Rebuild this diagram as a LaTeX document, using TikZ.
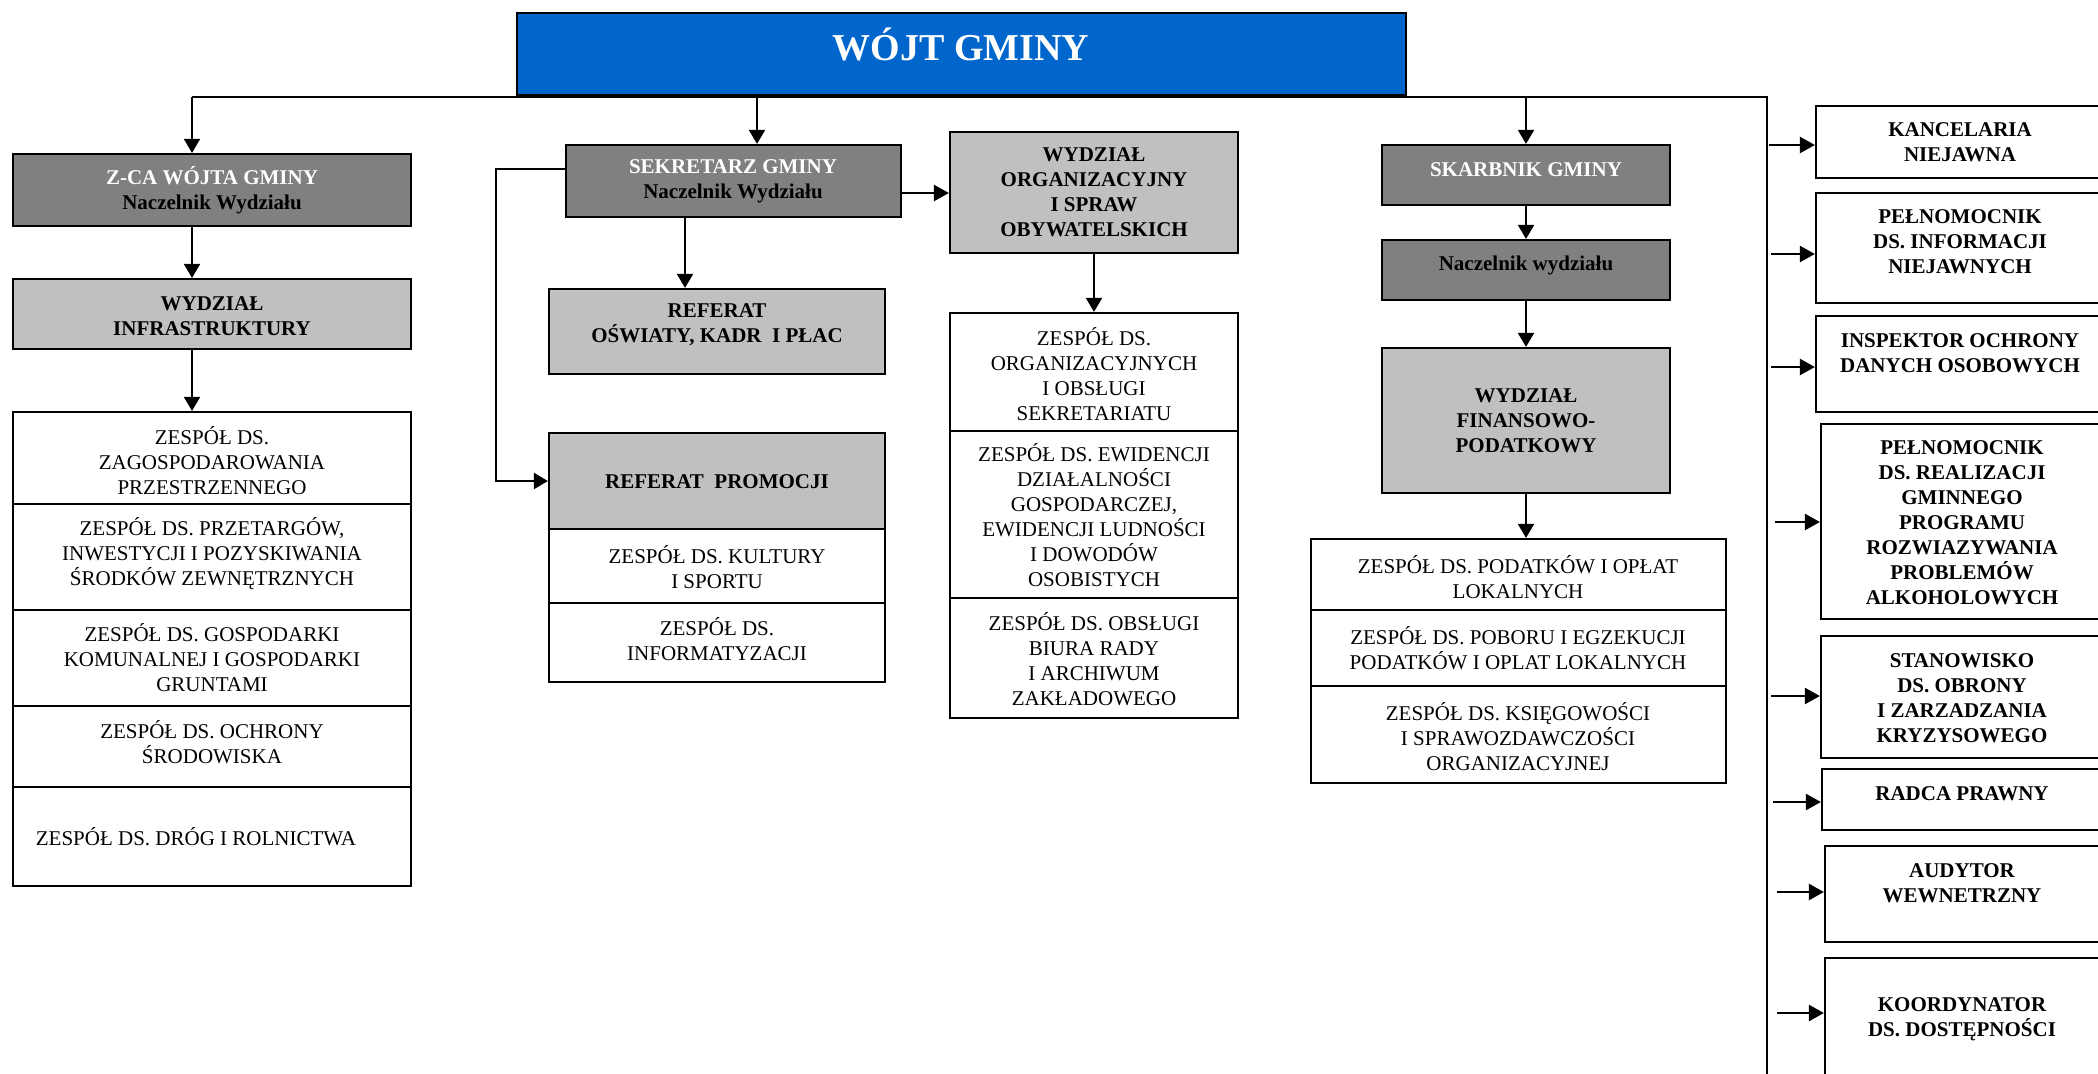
\documentclass[tikz,border=0pt]{standalone}
\usepackage{fontspec}
\setmainfont{Liberation Serif}
\usetikzlibrary{fit,arrows.meta}
\definecolor{wblue}{HTML}{0066CC}
\definecolor{dgray}{HTML}{808080}
\definecolor{lgray}{HTML}{C0C0C0}
\tikzset{
  box/.style={draw, line width=1.1pt, inner sep=0pt},
  txt/.style={font=\fontsize{10.5}{12.5}\selectfont, align=center, inner sep=0pt},
  btxt/.style={font=\fontsize{10.5}{12.5}\selectfont\bfseries, align=center, inner sep=0pt},
  arr/.style={line width=1pt, -{Triangle[length=7pt,width=8pt]}},
  harr/.style={line width=1.2pt, -{Triangle[length=7.5pt,width=8pt]}},
  bus/.style={line width=1pt}
}
\begin{document}
\begin{tikzpicture}[x=0.5pt,y=-0.5pt]
\useasboundingbox (0,0) rectangle (2098,1073);
\clip (0,0) rectangle (2098,1073);
\fill[white] (0,0) rectangle (2098,1073);

% top
\node[box, fill=wblue, fit={(517,13)(1406,95)}] (wojt) {};
\node[btxt, font=\fontsize{19}{22}\selectfont\bfseries, text=white, anchor=base] (twojt) at (961,60) {WÓJT GMINY};

% column 1
\node[box, fill=dgray, fit={(13,154)(411,226)}] (zca) {};
\node[btxt] (tzca) at (212,190) {{\color{white}Z-CA WÓJTA GMINY}\\Naczelnik Wydziału};
\node[box, fill=lgray, fit={(13,279)(411,349)}] (winfra) {};
\node[btxt] (twinfra) at (212,316) {WYDZIAŁ\\INFRASTRUKTURY};
\node[box, fit={(13,412)(411,504)}] (zinf1) {};
\node[txt] (tzinf1) at (212,461) {ZESPÓŁ DS.\\ZAGOSPODAROWANIA\\PRZESTRZENNEGO};
\node[box, fit={(13,504)(411,610)}] (zinf2) {};
\node[txt] (tzinf2) at (212,554) {ZESPÓŁ DS. PRZETARGÓW,\\INWESTYCJI I POZYSKIWANIA\\ŚRODKÓW ZEWNĘTRZNYCH};
\node[box, fit={(13,610)(411,706)}] (zinf3) {};
\node[txt] (tzinf3) at (212,658) {ZESPÓŁ DS. GOSPODARKI\\KOMUNALNEJ I GOSPODARKI\\GRUNTAMI};
\node[box, fit={(13,706)(411,787)}] (zinf4) {};
\node[txt] (tzinf4) at (212,742) {ZESPÓŁ DS. OCHRONY\\ŚRODOWISKA};
\node[box, fit={(13,787)(411,886)}] (zinf5) {};
\node[txt] (tzinf5) at (196,837) {ZESPÓŁ DS. DRÓG I ROLNICTWA};

% column 2
\node[box, fill=dgray, fit={(566,145)(901,217)}] (sek) {};
\node[btxt] (tsek) at (733,181) {{\color{white}SEKRETARZ GMINY}\\Naczelnik Wydziału};
\node[box, fill=lgray, fit={(549,289)(885,374)}] (rosw) {};
\node[btxt] (trosw) at (717,325) {REFERAT\\OŚWIATY, KADR~ I PŁAC};
\node[box, fill=lgray, fit={(549,433)(885,529)}] (rprom) {};
\node[btxt] (trprom) at (717,482) {REFERAT~ PROMOCJI};
\node[box, fit={(549,529)(885,603)}] (zkult) {};
\node[txt] (tzkult) at (717,567) {ZESPÓŁ DS. KULTURY\\I SPORTU};
\node[box, fit={(549,603)(885,682)}] (zinfo) {};
\node[txt] (tzinfo) at (717,639) {ZESPÓŁ DS.\\INFORMATYZACJI};

% column 3
\node[box, fill=lgray, fit={(950,132)(1238,253)}] (worg) {};
\node[btxt] (tworg) at (1094,192) {WYDZIAŁ\\ORGANIZACYJNY\\I SPRAW\\OBYWATELSKICH};
\node[box, fit={(950,313)(1238,431)}] (zorg1) {};
\node[txt] (tzorg1) at (1094,374) {ZESPÓŁ DS.\\ORGANIZACYJNYCH\\I OBSŁUGI\\SEKRETARIATU};
\node[box, fit={(950,431)(1238,598)}] (zorg2) {};
\node[txt] (tzorg2) at (1094,515) {ZESPÓŁ DS. EWIDENCJI\\DZIAŁALNOŚCI\\GOSPODARCZEJ,\\EWIDENCJI LUDNOŚCI\\I DOWODÓW\\OSOBISTYCH};
\node[box, fit={(950,598)(1238,718)}] (zorg3) {};
\node[txt] (tzorg3) at (1094,659) {ZESPÓŁ DS. OBSŁUGI\\BIURA RADY\\I ARCHIWUM\\ZAKŁADOWEGO};

% column 4
\node[box, fill=dgray, fit={(1382,145)(1670,205)}] (skarb) {};
\node[btxt, text=white] (tskarb) at (1526,170) {SKARBNIK GMINY};
\node[box, fill=dgray, fit={(1382,240)(1670,300)}] (nacz) {};
\node[btxt] (tnacz) at (1526,265) {Naczelnik wydziału};
\node[box, fill=lgray, fit={(1382,348)(1670,493)}] (wfin) {};
\node[btxt] (twfin) at (1526,421) {WYDZIAŁ\\FINANSOWO-\\PODATKOWY};
\node[box, fit={(1311,539)(1726,610)}] (zfin1) {};
\node[txt] (tzfin1) at (1518,577) {ZESPÓŁ DS. PODATKÓW I OPŁAT\\LOKALNYCH};
\node[box, fit={(1311,610)(1726,686)}] (zfin2) {};
\node[txt] (tzfin2) at (1518,648) {ZESPÓŁ DS. POBORU I EGZEKUCJI\\PODATKÓW I OPLAT LOKALNYCH};
\node[box, fit={(1311,686)(1726,783)}] (zfin3) {};
\node[txt] (tzfin3) at (1518,737) {ZESPÓŁ DS. KSIĘGOWOŚCI\\I SPRAWOZDAWCZOŚCI\\ORGANIZACYJNEJ};

% right column
\node[box, fit={(1816,106)(2104,178)}] (kanc) {};
\node[btxt] (tkanc) at (1960,142) {KANCELARIA\\NIEJAWNA};
\node[box, fit={(1816,193)(2104,303)}] (pinf) {};
\node[btxt] (tpinf) at (1960,242) {PEŁNOMOCNIK\\DS. INFORMACJI\\NIEJAWNYCH};
\node[box, fit={(1816,316)(2104,412)}] (iod) {};
\node[btxt] (tiod) at (1960,353) {INSPEKTOR OCHRONY\\DANYCH OSOBOWYCH};
\node[box, fit={(1821,424)(2104,619)}] (pral) {};
\node[btxt] (tpral) at (1962,523) {PEŁNOMOCNIK\\DS. REALIZACJI\\GMINNEGO\\PROGRAMU\\ROZWIAZYWANIA\\PROBLEMÓW\\ALKOHOLOWYCH};
\node[box, fit={(1821,636)(2104,758)}] (stan) {};
\node[btxt] (tstan) at (1962,698) {STANOWISKO\\DS. OBRONY\\I ZARZADZANIA\\KRYZYSOWEGO};
\node[box, fit={(1822,769)(2104,830)}] (radca) {};
\node[btxt] (tradca) at (1962,794) {RADCA PRAWNY};
\node[box, fit={(1825,846)(2104,942)}] (aud) {};
\node[btxt] (taud) at (1962,883) {AUDYTOR\\WEWNETRZNY};
\node[box, fit={(1825,958)(2104,1090)}] (koord) {};
\node[btxt] (tkoord) at (1962,1019) {KOORDYNATOR\\DS. DOSTĘPNOŚCI};

% bus
\coordinate (bZ) at (192,97);
\coordinate (bS) at (757,97);
\coordinate (bK) at (1526,97);
\coordinate (bR) at (1767,97);
\coordinate (bEnd) at (1767,1090);
\draw[bus] (bZ) -- (bR) -- (bEnd);

% column 1 arrows
\draw[arr] (bZ) -- (bZ |- zca.north);
\draw[arr] (bZ |- zca.south) -- (bZ |- winfra.north);
\draw[arr] (bZ |- winfra.south) -- (bZ |- zinf1.north);

% column 2 arrows
\draw[arr] (bS) -- (bS |- sek.north);
\coordinate (sx) at (685,0);
\draw[arr] (sx |- sek.south) -- (sx |- rosw.north);
\coordinate (sy) at (0,193);
\draw[harr] (sy -| sek.east) -- (sy -| worg.west);
\coordinate (lp) at (496,169);
\draw[arr] (lp -| sek.west) -- (lp) |- (rprom.west);

% column 3
\draw[arr] (worg.south) -- (zorg1.north);

% column 4
\draw[arr] (bK) -- (skarb.north);
\draw[arr] (skarb.south) -- (nacz.north);
\draw[arr] (nacz.south) -- (wfin.north);
\draw[arr] (wfin.south) -- (wfin.south |- zfin1.north);

% right arrows
\coordinate (r1) at (1769,145);
\draw[harr] (r1) -- (r1 -| kanc.west);
\coordinate (r2) at (1771,254);
\draw[harr] (r2) -- (r2 -| pinf.west);
\coordinate (r3) at (1771,367);
\draw[harr] (r3) -- (r3 -| iod.west);
\coordinate (r4) at (1775,522);
\draw[harr] (r4) -- (r4 -| pral.west);
\coordinate (r5) at (1771,696);
\draw[harr] (r5) -- (r5 -| stan.west);
\coordinate (r6) at (1773,802);
\draw[harr] (r6) -- (r6 -| radca.west);
\coordinate (r7) at (1777,892);
\draw[harr] (r7) -- (r7 -| aud.west);
\coordinate (r8) at (1777,1013);
\draw[harr] (r8) -- (r8 -| koord.west);
\end{tikzpicture}
\end{document}
